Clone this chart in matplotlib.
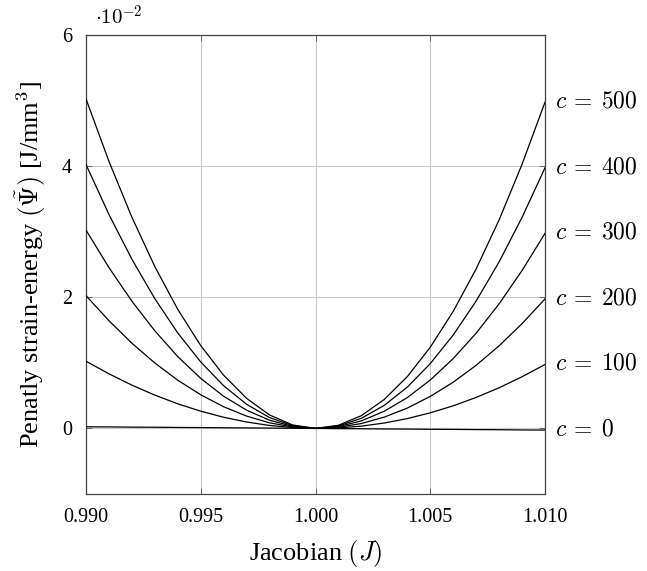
import matplotlib
matplotlib.use('Agg')
import matplotlib.pyplot as plt

# Jacobian samples and penalty energy values (in units of 1e-2 J/mm^3)
jacobian = [0.990, 0.991, 0.992, 0.993, 0.994, 0.995, 0.996, 0.997, 0.998, 0.999, 1.000,
            1.001, 1.002, 1.003, 1.004, 1.005, 1.006, 1.007, 1.008, 1.009, 1.010]

psi_c0 = [0.025, 0.023, 0.020, 0.018, 0.015, 0.013, 0.010, 0.008, 0.005, 0.003, 0.0,
          -0.003, -0.005, -0.008, -0.010, -0.013, -0.015, -0.018, -0.020, -0.023, -0.025]
psi_c100 = [1.025, 0.833, 0.660, 0.508, 0.375, 0.263, 0.170, 0.098, 0.045, 0.013, 0.0,
            0.008, 0.035, 0.083, 0.150, 0.238, 0.345, 0.473, 0.620, 0.788, 0.975]
psi_c200 = [2.025, 1.643, 1.300, 0.998, 0.735, 0.513, 0.330, 0.188, 0.085, 0.023, 0.0,
            0.018, 0.075, 0.173, 0.310, 0.488, 0.705, 0.963, 1.260, 1.598, 1.975]
psi_c300 = [3.025, 2.453, 1.940, 1.488, 1.095, 0.763, 0.490, 0.278, 0.125, 0.033, 0.0,
            0.028, 0.115, 0.263, 0.470, 0.738, 1.065, 1.453, 1.900, 2.408, 2.975]
psi_c400 = [4.025, 3.263, 2.580, 1.978, 1.455, 1.013, 0.650, 0.368, 0.165, 0.043, 0.0,
            0.038, 0.155, 0.353, 0.630, 0.988, 1.425, 1.943, 2.540, 3.218, 3.975]
psi_c500 = [5.025, 4.073, 3.220, 2.468, 1.815, 1.263, 0.810, 0.458, 0.205, 0.053, 0.0,
            0.048, 0.195, 0.443, 0.790, 1.238, 1.785, 2.433, 3.180, 4.028, 4.975]

penalties = [0, 100, 200, 300, 400, 500]
curves = [psi_c0, psi_c100, psi_c200, psi_c300, psi_c400, psi_c500]

x_ticks = [0.990, 0.995, 1.000, 1.005, 1.010]
x_tick_labels = ['0.990', '0.995', '1.000', '1.005', '1.010']
y_ticks = [0, 2, 4, 6]

plt.rcParams['font.family'] = ['Liberation Serif', 'DejaVu Serif']
plt.rcParams['mathtext.fontset'] = 'cm'

fig = plt.figure(figsize=(6.47, 5.71), dpi=100)
ax = fig.add_axes([86 / 647, 1 - 494 / 571, 459 / 647, 459 / 571])

for c, vals in zip(penalties, curves):
    ax.plot(jacobian, vals, color='black', linewidth=0.9, zorder=3)
    ax.annotate(r'$c\:=\:%d$' % c, xy=(jacobian[-1], vals[-1]),
                xytext=(7, 0), textcoords='offset points',
                ha='left', va='center', fontsize=17, annotation_clip=False)

ax.set_xlim(0.990, 1.010)
ax.set_ylim(-1, 6)
ax.set_xticks(x_ticks)
ax.set_xticklabels(x_tick_labels)
ax.set_yticks(y_ticks)
ax.tick_params(direction='in', length=4, width=0.6, labelsize=14.5, pad=10,
               top=True, right=True, color='#555555')
ax.grid(True, color='#c8c8c8', linewidth=0.8)
ax.set_axisbelow(True)
for s in ax.spines.values():
    s.set_linewidth(0.9)
    s.set_color('#444444')

ax.set_xlabel(r'Jacobian $(J)$', fontsize=19, labelpad=8)
ax.set_ylabel(r'Penatly strain-energy $(\tilde{\Psi})$ [J/mm$^3$]', fontsize=19, labelpad=10)

ax.text(0.02, 1.012, r'$\cdot 10^{-2}$', transform=ax.transAxes,
        ha='left', va='bottom', fontsize=15)

fig.savefig('out.png', dpi=100)
